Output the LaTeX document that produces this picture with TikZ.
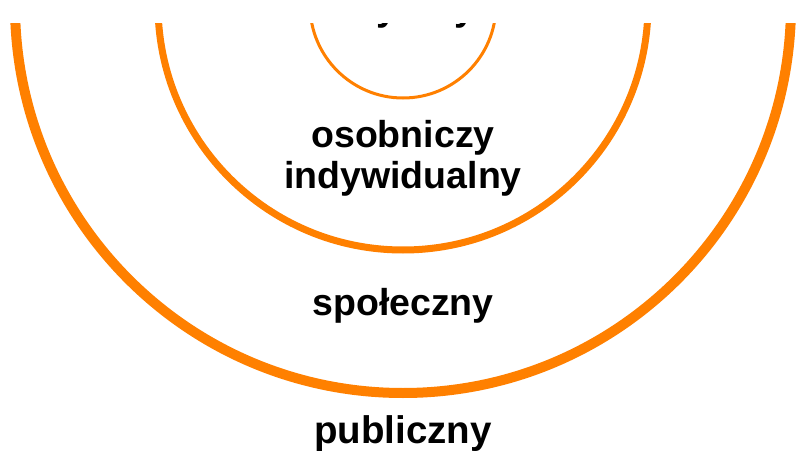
\documentclass[tikz,border=0pt]{standalone}
\usepackage{fontspec}
\setmainfont{Liberation Sans}
\definecolor{ringorange}{RGB}{255,128,0}
\begin{document}
\begin{tikzpicture}[x=1pt,y=-1pt,
  ring/.style={draw=ringorange},
  lbl/.style={font=\fontsize{37.5}{41}\selectfont\bfseries, text=black, inner sep=0pt, anchor=base, align=center}]
  % page background and frame
  \fill[white] (0,0) rectangle (796,452);
  \useasboundingbox (0,0) rectangle (796,452);
  \begin{scope}
    \clip (0,24) rectangle (796,452);
    \coordinate (c) at (403,5);
    \draw[ring, line width=3pt]  (c) circle[radius=93];
    \draw[ring, line width=7pt]  (c) circle[radius=245];
    \draw[ring, line width=10pt] (c) circle[radius=388];
    \node[lbl] (intymny) at (403,21) {intymny};
    % base anchor sits on the last line of a two-line node
    \node[lbl] (osob) at (403,188) {osobniczy\\indywidualny};
    \node[lbl] (spol) at (403,315) {społeczny};
    \node[lbl, font=\fontsize{38.5}{41}\selectfont\bfseries] (publ) at (403,443) {publiczny};
  \end{scope}
\end{tikzpicture}
\end{document}
